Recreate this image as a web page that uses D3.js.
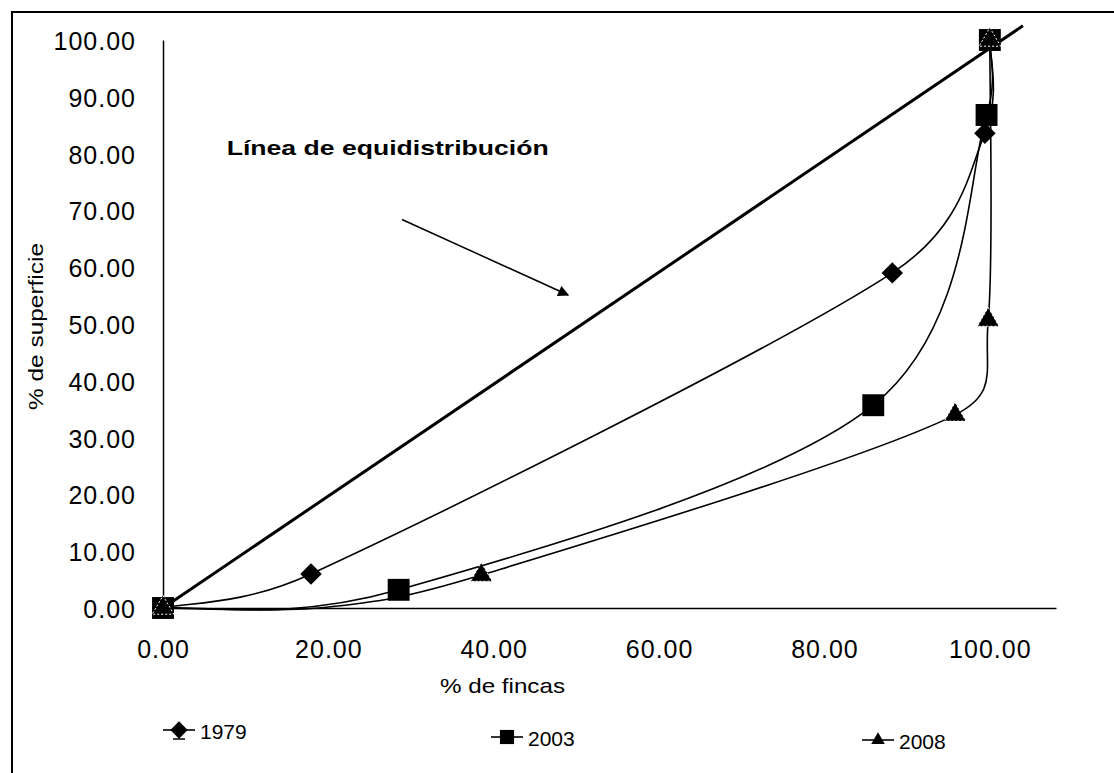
<!DOCTYPE html>
<html>
<head>
<meta charset="utf-8">
<script src="https://cdn.jsdelivr.net/npm/d3@7"></script>
<style>
  body { margin: 0; background: #fff; overflow: hidden; }
  svg { display: block; }
  svg text { font-family: "Liberation Sans", Arial, sans-serif; fill: #000; }
</style>
</head>
<body>
<svg id="chart" width="1114" height="773"></svg>
<script>
'use strict';

// data (% de fincas, % de superficie)
const x1979 = [0, 17.9, 88.2, 99.4, 100];
const y1979 = [0, 6.0, 59.0, 83.6, 100];

const x2003 = [0, 28.5, 85.9, 99.6, 100];
const y2003 = [0, 3.2, 35.7, 86.8, 100];

const x2008 = [0, 19.5, 38.5, 95.8, 99.8, 100];
const y2008 = [0, 0.1, 5.8, 34.0, 50.7, 100];
const mark2008 = [1, 0, 1, 1, 1, 1];

const equiX = [0, 104];
const equiY = [0, 102.5];

const xTicks = [0, 20, 40, 60, 80, 100];
const yTicks = [0, 10, 20, 30, 40, 50, 60, 70, 80, 90, 100];

const annotText = "Línea de equidistribución";
const arrowX = [28.9, 49.0];
const arrowY = [68.4, 55.1];

const svg = d3.select("#chart");

// outer frame (cut off at right and bottom in the original)
svg.append("rect")
  .attr("x", 12).attr("y", 12)
  .attr("width", 1300).attr("height", 900)
  .attr("fill", "none")
  .attr("stroke", "#000")
  .attr("stroke-width", 2);

const x = d3.scaleLinear().domain([0, 108]).range([163, 1056]);
const y = d3.scaleLinear().domain([0, 100]).range([608, 40]);

const fmt = d3.format(".2f");

// axes
const gx = svg.append("g")
  .attr("transform", `translate(0,${y(0)})`)
  .call(d3.axisBottom(x).tickValues(xTicks).tickFormat(fmt)
    .tickSize(0).tickSizeOuter(0).tickPadding(32));

const gy = svg.append("g")
  .attr("transform", `translate(${x(0)},0)`)
  .call(d3.axisLeft(y).tickValues(yTicks).tickFormat(fmt)
    .tickSize(0).tickSizeOuter(0).tickPadding(27));

[gx, gy].forEach(function(g) {
  g.select(".domain").attr("stroke", "#000").attr("stroke-width", 1.5);
  g.selectAll("text")
    .attr("font-family", "Liberation Sans, Arial, sans-serif")
    .attr("font-size", 25)
    .attr("letter-spacing", 1)
    .attr("fill", "#000");
});
gy.selectAll("text").attr("dy", "0.38em");

// axis titles
svg.append("text")
  .attr("x", 440).attr("y", 693)
  .attr("font-size", 21)
  .attr("textLength", 125)
  .attr("lengthAdjust", "spacingAndGlyphs")
  .text("% de fincas");

svg.append("text")
  .attr("transform", "translate(43,410) rotate(-90)")
  .attr("font-size", 21)
  .attr("textLength", 167)
  .attr("lengthAdjust", "spacingAndGlyphs")
  .text("% de superficie");

// equidistribution line
const line = d3.line()
  .x(function(d) { return x(d[0]); })
  .y(function(d) { return y(d[1]); });

svg.append("path")
  .datum(d3.zip(equiX, equiY))
  .attr("d", line)
  .attr("fill", "none")
  .attr("stroke", "#000")
  .attr("stroke-width", 3);

// spreadsheet-style smoothed line: bezier handles = (next - prev) / 6,
// never longer than half the segment they sit on
function smoothPath(data) {
  const p = data.map(function(d) { return [x(d[0]), y(d[1])]; });
  const n = p.length;
  const tan = p.map(function(pt, i) {
    const a = p[Math.max(i - 1, 0)], b = p[Math.min(i + 1, n - 1)];
    return [(b[0] - a[0]) / 6, (b[1] - a[1]) / 6];
  });
  function cap(t, len) {
    const l = Math.hypot(t[0], t[1]);
    const k = l > len / 2 ? (len / 2) / l : 1;
    return [t[0] * k, t[1] * k];
  }
  const path = d3.path();
  path.moveTo(p[0][0], p[0][1]);
  for (let i = 0; i < n - 1; i++) {
    const seg = Math.hypot(p[i + 1][0] - p[i][0], p[i + 1][1] - p[i][1]);
    const t1 = cap(tan[i], seg), t2 = cap(tan[i + 1], seg);
    path.bezierCurveTo(p[i][0] + t1[0], p[i][1] + t1[1],
      p[i + 1][0] - t2[0], p[i + 1][1] - t2[1],
      p[i + 1][0], p[i + 1][1]);
  }
  return path.toString();
}

const diamond = {
  draw: function(ctx, size) {
    const r = Math.sqrt(size / 2);
    ctx.moveTo(0, -r); ctx.lineTo(r, 0); ctx.lineTo(0, r); ctx.lineTo(-r, 0); ctx.closePath();
  }
};

const series = [
  { name: "1979", xs: x1979, ys: y1979, shape: diamond, size: 230, marks: null },
  { name: "2003", xs: x2003, ys: y2003, shape: d3.symbolSquare, size: 480, marks: null },
  { name: "2008", xs: x2008, ys: y2008, shape: d3.symbolTriangle, size: 200, marks: mark2008 }
];

series.forEach(function(s) {
  svg.append("path")
    .datum(d3.zip(s.xs, s.ys))
    .attr("d", smoothPath)
    .attr("fill", "none")
    .attr("stroke", "#000")
    .attr("stroke-width", 1.6);
});

series.forEach(function(s) {
  const pts = d3.zip(s.xs, s.ys).filter(function(d, i) { return !s.marks || s.marks[i]; });
  svg.append("g").selectAll("path")
    .data(pts)
    .enter().append("path")
      .attr("transform", function(d) { return `translate(${x(d[0])},${y(d[1])})`; })
      .attr("d", d3.symbol().type(s.shape).size(s.size))
      .attr("fill", "#000")
      .attr("stroke", s.name === "2008" ? "#fff" : "none")
      .attr("stroke-width", 1)
      .attr("stroke-dasharray", "2,2");
});

// annotation
svg.append("text")
  .attr("x", x(7.7)).attr("y", y(79.8))
  .attr("font-size", 21)
  .attr("font-weight", "bold")
  .attr("textLength", 322)
  .attr("lengthAdjust", "spacingAndGlyphs")
  .text(annotText);

svg.append("defs").append("marker")
  .attr("id", "head")
  .attr("viewBox", "0 0 10 10")
  .attr("refX", 9).attr("refY", 5)
  .attr("markerWidth", 17).attr("markerHeight", 11)
  .attr("markerUnits", "userSpaceOnUse")
  .attr("orient", "auto")
  .append("path")
    .attr("d", "M0,0L10,5L0,10z")
    .attr("fill", "#000");

svg.append("line")
  .attr("x1", x(arrowX[0])).attr("y1", y(arrowY[0]))
  .attr("x2", x(arrowX[1])).attr("y2", y(arrowY[1]))
  .attr("stroke", "#000")
  .attr("stroke-width", 1.5)
  .attr("marker-end", "url(#head)");

// legend
const legend = [
  { name: "1979", x0: 163, yy: 730, shape: diamond, size: 150 },
  { name: "2003", x0: 491, yy: 737, shape: d3.symbolSquare, size: 200 },
  { name: "2008", x0: 862, yy: 740, shape: d3.symbolTriangle, size: 80 }
];

legend.forEach(function(l) {
  const g = svg.append("g");
  g.append("line")
    .attr("x1", l.x0).attr("x2", l.x0 + 32)
    .attr("y1", l.yy).attr("y2", l.yy)
    .attr("stroke", "#000").attr("stroke-width", 1.6);
  g.append("path")
    .attr("transform", `translate(${l.x0 + 16},${l.yy})`)
    .attr("d", d3.symbol().type(l.shape).size(l.size))
    .attr("fill", "#000");
  if (l.name === "1979") {
    g.append("line")
      .attr("x1", l.x0 + 10).attr("x2", l.x0 + 22)
      .attr("y1", l.yy + 9).attr("y2", l.yy + 9)
      .attr("stroke", "#000").attr("stroke-width", 1.5);
  }
  g.append("text")
    .attr("x", l.x0 + 37).attr("y", l.yy + 9)
    .attr("font-size", 21)
    .text(l.name);
});
</script>
</body>
</html>
